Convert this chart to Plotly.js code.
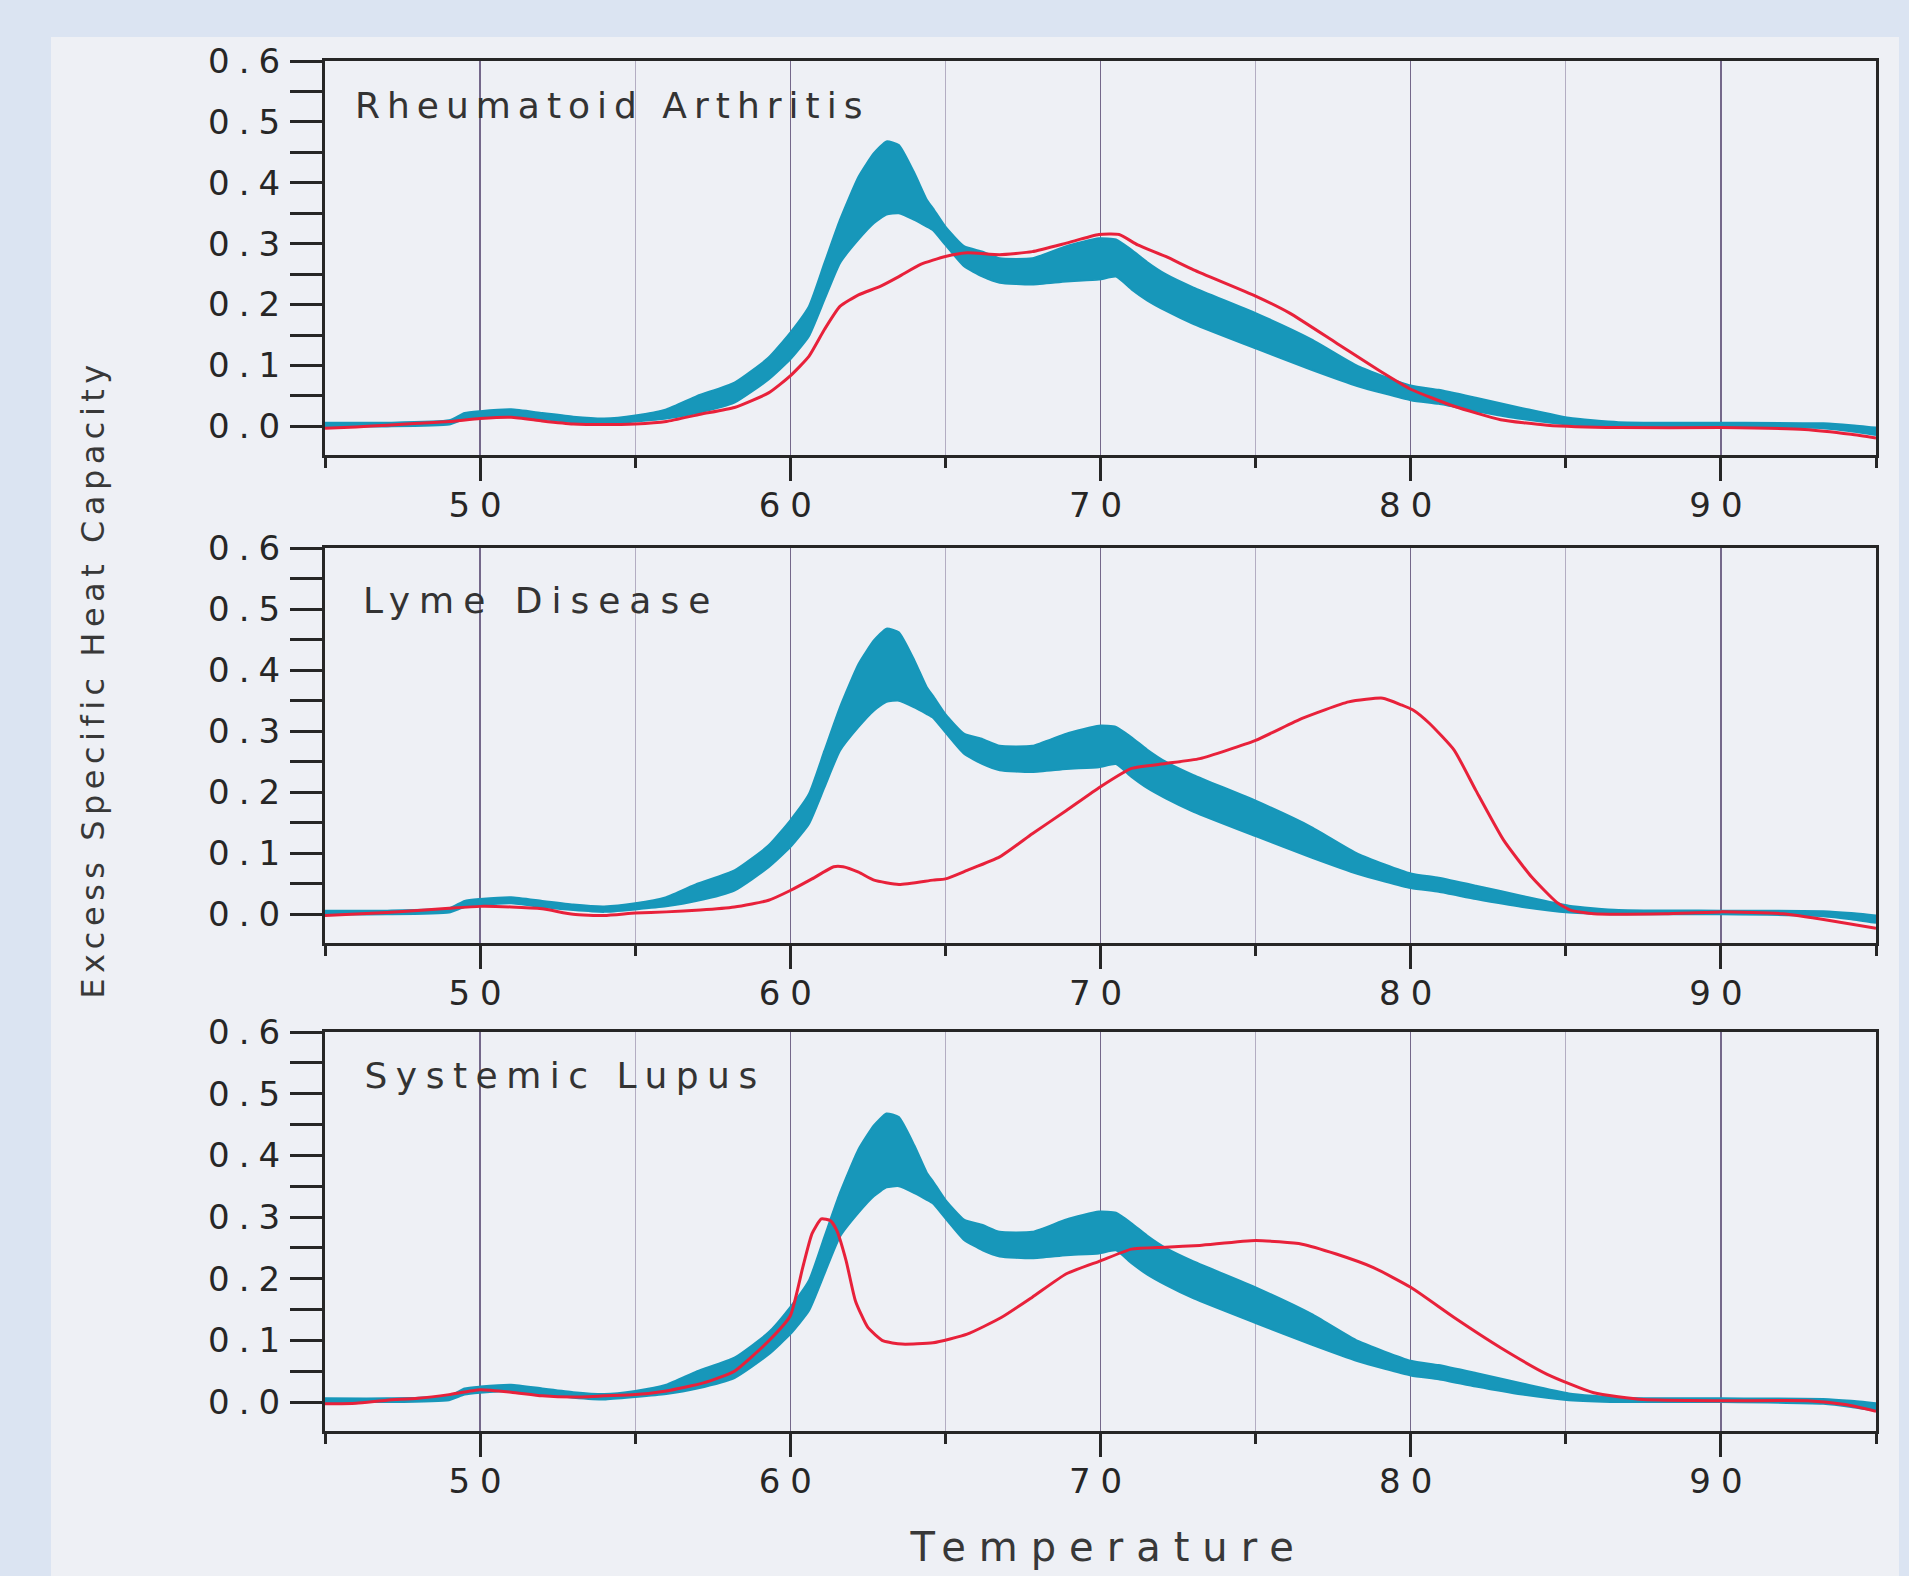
<!DOCTYPE html>
<html>
<head>
<meta charset="utf-8">
<script src="https://cdn.plot.ly/plotly-3.0.1.min.js"></script>
<style>
  html, body { margin: 0; padding: 0; background: #dbe4f2; width: 1909px; height: 1576px; overflow: hidden; }
  #chart { position: absolute; left: 51px; top: 37px; width: 1848px; height: 1539px; }
  .xtick text, .x2tick text, .x3tick text { letter-spacing: 10px; }
  .ytick text, .y2tick text, .y3tick text { letter-spacing: 9px; }
  g.annotation[data-index="0"] text, g.annotation[data-index="1"] text, g.annotation[data-index="2"] text { letter-spacing: 7px; }
  g.annotation[data-index="1"] text { letter-spacing: 9px; }
  g.annotation[data-index="2"] text { letter-spacing: 8.5px; }
  g.annotation[data-index="3"] text { letter-spacing: 5.5px; }
  g.annotation[data-index="4"] text { letter-spacing: 13px; }
</style>
</head>
<body>
<div id="chart"></div>
<script>
// Healthy reference band (same in each panel): temperature, lower and upper edge
const bandT    = [45,47,49,49.5,50,51,52,53,54,55,56,57,58.2,59.3,60,60.6,61.1,61.6,62.2,62.7,63.1,63.5,64.0,64.4,64.6,65.0,65.6,66.2,66.75,67.8,68.9,69.95,70.5,71.0,71.5,72.1,73.0,75.0,76.8,78.3,80.0,80.9,82.1,83.6,85.1,86.7,90,93.3,94.2,95];
const bandLow  = [0,0,0.003,0.012,0.015,0.018,0.012,0.007,0.004,0.008,0.013,0.022,0.039,0.077,0.11,0.148,0.208,0.268,0.307,0.334,0.348,0.35,0.339,0.328,0.322,0.298,0.263,0.246,0.236,0.233,0.238,0.241,0.246,0.225,0.207,0.19,0.168,0.128,0.093,0.066,0.043,0.037,0.025,0.012,0.003,0,0,-0.003,-0.008,-0.014];
const bandHigh = [0.006,0.006,0.01,0.022,0.025,0.028,0.022,0.016,0.013,0.018,0.028,0.05,0.072,0.113,0.154,0.197,0.268,0.339,0.41,0.449,0.468,0.462,0.416,0.372,0.358,0.328,0.296,0.287,0.276,0.276,0.296,0.309,0.307,0.29,0.27,0.25,0.228,0.186,0.143,0.099,0.067,0.06,0.047,0.03,0.014,0.007,0.006,0.005,0.002,-0.002];

// Rheumatoid Arthritis (red)
const raT = [45,46,47,48,49,50,51,52,53,54,55,56,57.1,58.2,59.3,60,60.6,61.1,61.6,62.2,62.9,63.5,64.2,65,65.7,66.75,67.8,68.9,69.95,70.6,71.2,72.1,73.0,75,76.1,77.6,79.1,80,81.4,82.9,84.4,86.7,90,92.7,94.2,95];
const raY = [-0.003,-0.001,0.002,0.005,0.008,0.013,0.015,0.009,0.004,0.003,0.004,0.008,0.02,0.031,0.055,0.083,0.115,0.159,0.197,0.216,0.230,0.246,0.266,0.279,0.285,0.282,0.287,0.301,0.315,0.315,0.298,0.279,0.257,0.214,0.186,0.137,0.088,0.061,0.033,0.011,0.002,-0.002,-0.002,-0.005,-0.013,-0.019];

// Lyme Disease (red)
const lyT = [45,47,49,50,51,52,53,54,55,56,57.1,58.2,59.3,60,60.7,61.4,61.7,62.2,62.7,63.5,64.6,65,65.7,66.75,67.8,68.9,70,71,72.1,73.2,75,76.5,78,79.1,79.7,80.1,80.6,81.4,82.1,83.0,83.9,84.7,85.15,85.9,88.2,90,92,93.5,95];
const lyY = [-0.002,0.003,0.01,0.013,0.012,0.009,0.0,-0.002,0.002,0.004,0.007,0.012,0.023,0.039,0.058,0.078,0.078,0.069,0.056,0.049,0.056,0.058,0.072,0.094,0.132,0.17,0.209,0.239,0.247,0.255,0.285,0.321,0.348,0.354,0.343,0.334,0.313,0.269,0.203,0.121,0.061,0.02,0.007,0.001,0.001,0.004,0.001,-0.01,-0.023];

// Systemic Lupus (red)
const luT = [45,46,47,48,49,50,51,52,53,54,55,56,57.2,58.2,59.3,60,60.4,60.7,61.0,61.3,61.5,61.8,62.1,62.5,63.0,63.6,64.6,65.7,66.8,67.8,68.9,70,71,72.1,73.2,75,76.5,77.6,78.8,80,81.4,82.9,84.4,85.9,87.5,90,92.8,94,95];
const luY = [-0.003,-0.002,0.003,0.006,0.012,0.02,0.016,0.01,0.008,0.01,0.012,0.018,0.031,0.05,0.099,0.14,0.218,0.273,0.297,0.294,0.278,0.229,0.164,0.121,0.099,0.094,0.096,0.11,0.137,0.17,0.208,0.229,0.248,0.251,0.254,0.262,0.256,0.24,0.218,0.186,0.137,0.088,0.045,0.015,0.004,0.002,0.002,-0.004,-0.015];

const panelNames = ['Rheumatoid Arthritis', 'Lyme Disease', 'Systemic Lupus'];
const xTitle = 'Temperature';
const yTitle = 'Excess Specific Heat Capacity';

const teal = '#1797ba';
const red = '#e8213a';
const ink = '#262626';
const FONT = 'DejaVu Sans, Arial, sans-serif';

const series = [[raT, raY], [lyT, lyY], [luT, luY]];
const traces = [];
series.forEach((s, i) => {
  const xa = i === 0 ? 'x' : 'x' + (i + 1);
  const ya = i === 0 ? 'y' : 'y' + (i + 1);
  traces.push({ x: bandT, y: bandLow, xaxis: xa, yaxis: ya, type: 'scatter', mode: 'lines',
    line: { color: teal, width: 2, shape: 'spline', smoothing: 0.5 }, hoverinfo: 'skip' });
  traces.push({ x: bandT, y: bandHigh, xaxis: xa, yaxis: ya, type: 'scatter', mode: 'lines',
    fill: 'tonexty', fillcolor: teal,
    line: { color: teal, width: 2, shape: 'spline', smoothing: 0.5 }, hoverinfo: 'skip' });
  traces.push({ x: s[0], y: s[1], xaxis: xa, yaxis: ya, type: 'scatter', mode: 'lines',
    line: { color: red, width: 3, shape: 'spline', smoothing: 0.5 } });
});

function xAxis(anchor) {
  return {
    anchor: anchor, domain: [0, 1], range: [45, 95],
    tick0: 0, dtick: 10, ticks: 'outside', ticklen: 23, tickwidth: 3, tickcolor: ink,
    showline: true, mirror: true, linewidth: 3, linecolor: ink,
    showgrid: true, gridcolor: '#74688a', gridwidth: 1.5, zeroline: false,
    minor: { tick0: 0, dtick: 5, ticks: 'outside', ticklen: 10, tickwidth: 3, tickcolor: ink,
             showgrid: true, gridcolor: '#b3adc2', gridwidth: 1.3 },
    tickfont: { family: FONT, size: 34, color: '#262626' },
    ticklabelstandoff: -5
  };
}
function yAxis(anchor, dom) {
  return {
    anchor: anchor, domain: dom, range: [-0.047, 0.6],
    tick0: 0, dtick: 0.1, tickformat: '.1f', ticks: 'outside', ticklen: 32, tickwidth: 3, tickcolor: ink,
    showline: true, mirror: true, linewidth: 3, linecolor: ink,
    showgrid: false, zeroline: false,
    minor: { dtick: 0.05, ticks: 'outside', ticklen: 32, tickwidth: 3, tickcolor: ink, showgrid: false },
    tickfont: { family: FONT, size: 34, color: '#262626' },
    ticklabelstandoff: -6
  };
}

// centres of the panel labels (axis-domain fractions)
const labelPos = [[0.185, 0.888], [0.139, 0.868], [0.155, 0.89]];
const annotations = panelNames.map((name, i) => ({
  text: name, xref: (i === 0 ? 'x' : 'x' + (i + 1)) + ' domain', yref: (i === 0 ? 'y' : 'y' + (i + 1)) + ' domain',
  x: labelPos[i][0], y: labelPos[i][1], xanchor: 'center', yanchor: 'middle', showarrow: false,
  font: { family: FONT, size: 36, color: '#333333' }
}));
annotations.push({
  text: yTitle, xref: 'paper', yref: 'paper', x: -0.1495, y: 0.549, xanchor: 'center', yanchor: 'middle',
  textangle: -90, showarrow: false, font: { family: FONT, size: 32, color: '#383838' }
});
annotations.push({
  text: xTitle, xref: 'paper', yref: 'paper', x: 0.505, y: -0.085, xanchor: 'center', yanchor: 'middle',
  showarrow: false, font: { family: FONT, size: 40, color: '#383838' }
});

const layout = {
  width: 1848, height: 1539,
  margin: { l: 274, r: 23, t: 24, b: 145 },
  paper_bgcolor: '#eef0f5', plot_bgcolor: '#eef0f5',
  showlegend: false,
  xaxis: xAxis('y'), yaxis: yAxis('x', [0.7124, 1]),
  xaxis2: xAxis('y2'), yaxis2: yAxis('x2', [0.3562, 0.6445]),
  xaxis3: xAxis('y3'), yaxis3: yAxis('x3', [0, 0.2912]),
  annotations: annotations
};

Plotly.newPlot('chart', traces, layout, { staticPlot: true, displayModeBar: false });
</script>
</body>
</html>
